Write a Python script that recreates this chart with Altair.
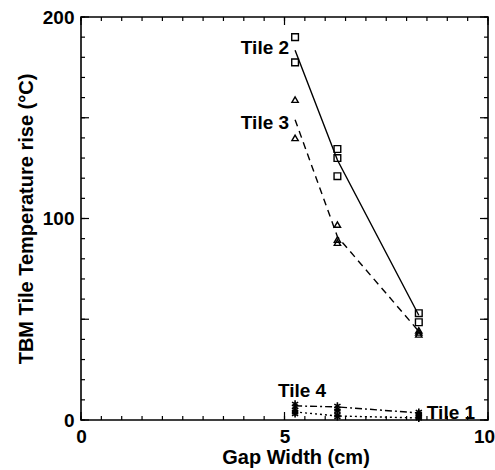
import altair as alt
import pandas as pd

FONT = "Liberation Sans Narrow, Arial Narrow, Liberation Sans, sans-serif"

# ---- data ----
t2_gap = [5.26, 5.26, 6.3, 6.3, 6.3, 8.3, 8.3]
t2_temp = [190.0, 177.5, 134.5, 130.0, 121.0, 53.0, 48.5]
t3_gap = [5.26, 5.26, 6.3, 6.3, 6.3, 8.3, 8.3, 8.3]
t3_temp = [159.0, 140.0, 97.0, 89.5, 88.0, 44.5, 43.5, 42.5]
t4_gap = [5.26, 5.26, 5.26, 6.3, 6.3, 6.3, 8.3, 8.3]
t4_temp = [8.0, 6.5, 5.0, 7.0, 5.5, 4.5, 4.0, 3.0]
t1_gap = [5.26, 5.26, 6.3, 6.3, 8.3, 8.3, 8.3]
t1_temp = [4.0, 3.0, 2.5, 1.5, 2.2, 1.5, 0.8]

line_gap = [5.26, 6.3, 8.3]
t2_line = [183.5, 129.0, 52.0]
t3_line = [149.0, 91.0, 44.0]
t4_line = [7.0, 6.5, 3.5]
t1_line = [4.0, 2.0, 1.0]

label_text = ["Tile 2", "Tile 3", "Tile 4", "Tile 1"]
label_gap = [4.52, 4.52, 5.43, 9.09]
label_temp = [184.6, 147.4, 14.4, 3.5]

x_major = [0, 5, 10]
x_minor = [i * 0.5 for i in range(21)]
y_major = [0, 50, 100, 150, 200]
y_minor = [i * 10 for i in range(21)]
y_labels = [0, 100, 200]

W, H = 407, 403

xs = alt.Scale(domain=[0, 10], nice=False, zero=False)
ys = alt.Scale(domain=[0, 200], nice=False, zero=False)

x_axis = alt.Axis(values=x_major, title="Gap Width (cm)", ticks=False, domain=False,
                  grid=False, labelFlush=False, labelFont=FONT, labelFontSize=19,
                  labelFontWeight="bold", labelColor="black", labelPadding=7,
                  labelOffset={"expr": "datum.value == 10 ? -4 : 0"},
                  titleFont=FONT, titleFontSize=20, titleFontWeight="bold",
                  titleColor="black", titlePadding=1, titleX=W / 2 + 11)
y_axis = alt.Axis(values=y_labels, title="TBM Tile Temperature rise (°C)", ticks=False,
                  domain=False, grid=False, labelFlush=False, labelFont=FONT, labelFontSize=19,
                  labelFontWeight="bold", labelColor="black", labelPadding=7,
                  titleFont=FONT, titleFontSize=20, titleFontWeight="bold",
                  titleColor="black", titlePadding=6)

X = alt.X("gap:Q", scale=xs, axis=x_axis)
Y = alt.Y("temp:Q", scale=ys, axis=y_axis)


def pts(gx, ty):
    return pd.DataFrame({"gap": gx, "temp": ty})


def line(ys_, dash):
    kw = {"strokeDash": dash} if dash else {}
    return alt.Chart(pts(line_gap, ys_)).mark_line(color="black", strokeWidth=1.4, **kw).encode(
        x=X, y=Y)


l2 = line(t2_line, None)
l3 = line(t3_line, [7, 5])
l4 = line(t4_line, [7, 3, 2, 3])
l1 = line(t1_line, [2, 3])

sq = alt.Chart(pts(t2_gap, t2_temp)).mark_point(shape="square", filled=False, color="black",
                                                  size=45, strokeWidth=1.4, opacity=1).encode(x=X, y=Y)
tri = alt.Chart(pts(t3_gap, t3_temp)).mark_point(shape="triangle-up", filled=False, color="black",
                                                   size=40, strokeWidth=1.4, opacity=1).encode(x=X, y=Y)
AST = "M0,-1L0,1M-0.87,-0.5L0.87,0.5M-0.87,0.5L0.87,-0.5"
st4 = alt.Chart(pts(t4_gap, t4_temp)).mark_point(shape=AST, filled=False, color="black",
                                                   size=50, strokeWidth=1.6, opacity=1).encode(x=X, y=Y)
st1 = alt.Chart(pts(t1_gap, t1_temp)).mark_point(shape=AST, filled=False, color="black",
                                                   size=50, strokeWidth=1.6, opacity=1).encode(x=X, y=Y)

labels = alt.Chart(pd.DataFrame({"gap": label_gap, "temp": label_temp, "t": label_text})).mark_text(
    font=FONT, fontSize=19, fontWeight="bold", color="black", align="center", baseline="middle"
).encode(x=X, y=Y, text="t:N")


def xticks(vals, length):
    d = pd.DataFrame({"gap": vals})
    bot = alt.Chart(d).mark_rule(color="black", strokeWidth=1.2).encode(
        x=X, y=alt.value(H), y2=alt.value(H - length))
    top = alt.Chart(d).mark_rule(color="black", strokeWidth=1.2).encode(
        x=X, y=alt.value(0), y2=alt.value(length))
    return [bot, top]


def yticks(vals, length):
    d = pd.DataFrame({"temp": vals})
    left = alt.Chart(d).mark_rule(color="black", strokeWidth=1.2).encode(
        y=Y, x=alt.value(0), x2=alt.value(length))
    right = alt.Chart(d).mark_rule(color="black", strokeWidth=1.2).encode(
        y=Y, x=alt.value(W), x2=alt.value(W - length))
    return [left, right]


layers = [sq, tri, st4, st1, l2, l3, l4, l1, labels]
layers += xticks(x_minor, 4) + xticks(x_major, 8) + yticks(y_minor, 4) + yticks(y_major, 8)

chart = alt.layer(*layers).properties(
    width=W, height=H,
    autosize=alt.AutoSizeParams(type="none"),
    padding={"left": 81, "top": 17, "right": 7, "bottom": 50},
    background="white",
).configure_view(stroke="black", strokeWidth=1.6)

chart.save("out.html", embed_options={"renderer": "svg", "actions": False})
